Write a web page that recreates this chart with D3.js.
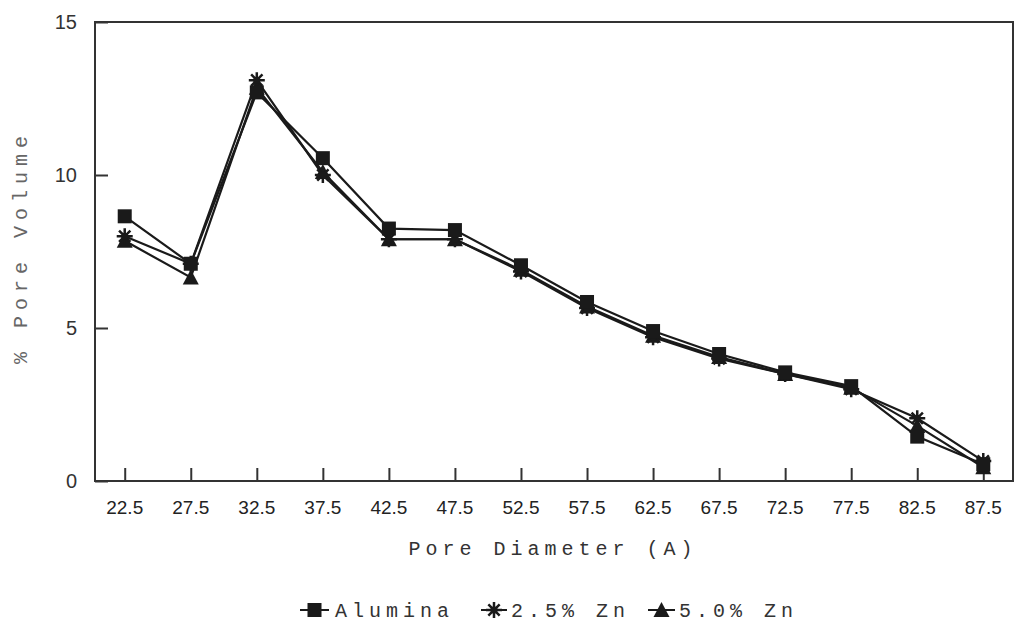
<!DOCTYPE html>
<html>
<head>
<meta charset="utf-8">
<script src="https://cdn.jsdelivr.net/npm/d3@7"></script>
<style>
  html, body { margin: 0; padding: 0; background: #fff; }
  svg { display: block; }
</style>
</head>
<body>
<svg id="chart" width="1016" height="623"></svg>
<script>
const categories = ["22.5","27.5","32.5","37.5","42.5","47.5","52.5","57.5","62.5","67.5","72.5","77.5","82.5","87.5"];
const alumina = [8.65, 7.1, 12.7, 10.55, 8.25, 8.2, 7.05, 5.85, 4.9, 4.15, 3.55, 3.1, 1.45, 0.55];
const zn25    = [8.0, 7.1, 13.1, 10.0, 7.9, 7.9, 6.85, 5.65, 4.7, 4.0, 3.5, 3.0, 2.05, 0.65];
const zn50    = [7.85, 6.65, 12.85, 10.1, 7.9, 7.9, 6.9, 5.7, 4.75, 4.05, 3.5, 3.05, 1.8, 0.45];
const yTicks = [0, 5, 10, 15];
const seriesNames = ["Alumina", "2.5% Zn", "5.0% Zn"];

const svg = d3.select("#chart");
const L = 95, R = 1013, T = 22, B = 481;

const x = d3.scalePoint().domain(categories).range([L, R]).padding(0.45);
const y = d3.scaleLinear().domain([0, 15]).range([B, T]);

// frame
svg.append("rect").attr("x", L).attr("y", T).attr("width", R - L).attr("height", B - T)
  .attr("fill", "none").attr("stroke", "#333").attr("stroke-width", 2);

// x ticks (inward)
const xAxis = d3.axisBottom(x).tickSize(-13).tickFormat("").tickSizeOuter(0);
const gx = svg.append("g").attr("transform", `translate(0,${B})`).call(xAxis);
gx.select(".domain").remove();
gx.selectAll("line").attr("stroke", "#333").attr("stroke-width", 2);
svg.append("g").selectAll("text").data(categories).join("text")
  .attr("x", d => x(d)).attr("y", 514)
  .attr("text-anchor", "middle")
  .attr("font-family", "Liberation Sans, Arial, sans-serif")
  .attr("font-size", 19).attr("fill", "#222")
  .text(d => d);

// y ticks (inward)
const yAxis = d3.axisLeft(y).tickValues(yTicks).tickSize(-13).tickFormat("").tickSizeOuter(0);
const gy = svg.append("g").attr("transform", `translate(${L},0)`).call(yAxis);
gy.select(".domain").remove();
gy.selectAll("line").attr("stroke", "#333").attr("stroke-width", 2);
svg.append("g").selectAll("text").data(yTicks).join("text")
  .attr("x", 77).attr("y", d => y(d) + 7)
  .attr("text-anchor", "end")
  .attr("font-family", "Liberation Sans, Arial, sans-serif")
  .attr("font-size", 20).attr("fill", "#333")
  .text(d => d);

// titles
svg.append("text").attr("x", 553).attr("y", 555).attr("text-anchor", "middle")
  .attr("font-family", "Liberation Mono, Courier New, monospace")
  .attr("font-size", 20).attr("letter-spacing", 5).attr("fill", "#333")
  .text("Pore Diameter (A)");
svg.append("text").attr("transform", "translate(27,247) rotate(-90)").attr("text-anchor", "middle")
  .attr("font-family", "Liberation Mono, Courier New, monospace")
  .attr("font-size", 20).attr("letter-spacing", 6).attr("fill", "#666")
  .text("% Pore Volume");

// marker drawers
function drawMarker(g, type, cx, cy) {
  if (type === 0) {
    g.append("rect").attr("x", cx - 7).attr("y", cy - 7).attr("width", 14).attr("height", 14)
      .attr("fill", "#1a1a1a");
  } else if (type === 1) {
    const r = 8;
    const p = d3.path();
    for (let k = 0; k < 4; k++) {
      const a = k * Math.PI / 4;
      p.moveTo(cx - r * Math.cos(a), cy - r * Math.sin(a));
      p.lineTo(cx + r * Math.cos(a), cy + r * Math.sin(a));
    }
    g.append("path").attr("d", p.toString()).attr("stroke", "#1a1a1a").attr("stroke-width", 2.5).attr("fill", "none");
    g.append("circle").attr("cx", cx).attr("cy", cy).attr("r", 3.5).attr("fill", "#1a1a1a");
  } else {
    g.append("path").attr("d", `M${cx},${cy - 8}L${cx + 8},${cy + 7}L${cx - 8},${cy + 7}Z`).attr("fill", "#1a1a1a");
  }
}

const series = [alumina, zn25, zn50];
const line = d3.line().x((d, i) => x(categories[i])).y(d => y(d));
series.forEach((s, si) => {
  svg.append("path").datum(s).attr("d", line).attr("fill", "none")
    .attr("stroke", "#1a1a1a").attr("stroke-width", 2.2);
});
// draw markers: triangles first, then stars, then squares
[2, 1, 0].forEach(si => {
  const g = svg.append("g");
  series[si].forEach((v, i) => drawMarker(g, si, x(categories[i]), y(v)));
});

// legend
const legend = [
  { x0: 300, x1: 329, tx: 335 },
  { x0: 481, x1: 507, tx: 511 },
  { x0: 648, x1: 675, tx: 679 }
];
legend.forEach((lg, i) => {
  const g = svg.append("g");
  const cy = 610;
  g.append("line").attr("x1", lg.x0).attr("x2", lg.x1).attr("y1", cy).attr("y2", cy)
    .attr("stroke", "#1a1a1a").attr("stroke-width", 2);
  drawMarker(g, i, (lg.x0 + lg.x1) / 2, cy);
  g.append("text").attr("x", lg.tx).attr("y", 617)
    .attr("font-family", "Liberation Mono, Courier New, monospace")
    .attr("font-size", 20).attr("letter-spacing", 5).attr("fill", "#333")
    .text(seriesNames[i]);
});
</script>
</body>
</html>
